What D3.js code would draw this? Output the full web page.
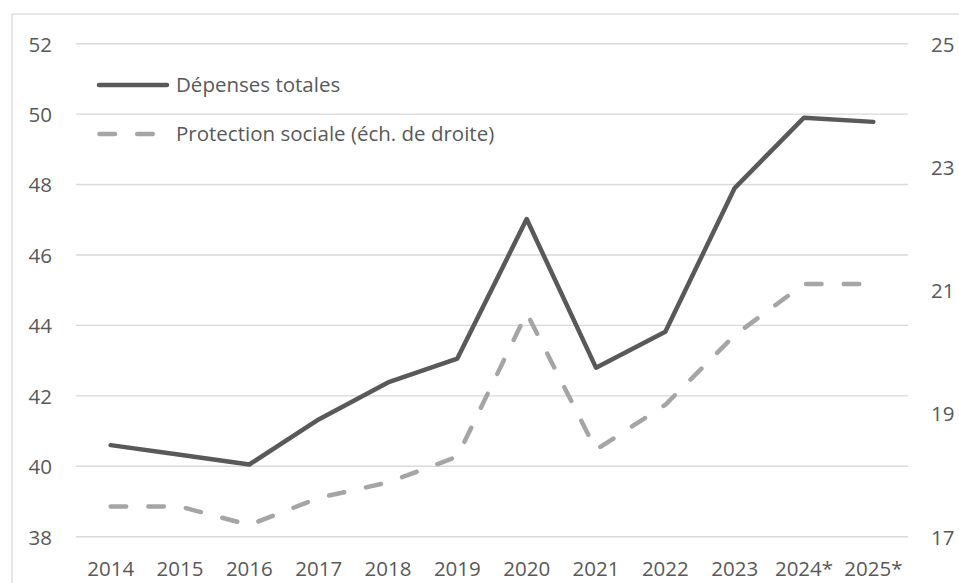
<!DOCTYPE html>
<html>
<head>
<meta charset="utf-8">
<script src="https://cdn.jsdelivr.net/npm/d3@7"></script>
<style>
  html, body { margin: 0; padding: 0; background: #fff; }
  svg { display: block; }
  text { font-family: "Open Sans", "Noto Sans", sans-serif; fill: #595959; }
</style>
</head>
<body>
<svg id="chart" width="959" height="583"></svg>
<script>
// Years on the horizontal axis (* = forecast)
const years = ["2014", "2015", "2016", "2017", "2018", "2019", "2020", "2021", "2022", "2023", "2024*", "2025*"];
// Total public spending, % of GDP (left scale)
const totalSpending = [40.60, 40.33, 40.05, 41.33, 42.38, 43.06, 47.02, 42.80, 43.82, 47.90, 49.90, 49.78];
// Social protection spending, % of GDP (right scale)
const socialProtection = [17.49, 17.49, 17.19, 17.63, 17.88, 18.30, 20.63, 18.41, 19.14, 20.27, 21.10, 21.10];
// Axis ticks
const leftTicks = [38, 40, 42, 44, 46, 48, 50, 52];
const rightTicks = [17, 19, 21, 23, 25];
// Legend entries
const seriesNames = ["Dépenses totales", "Protection sociale (éch. de droite)"];

const FONT_SIZE = 20.5;
const svg = d3.select("#chart");
const plot = { left: 76, right: 908, top: 43.7, bottom: 536.7 };

// Outer frame of the chart area
svg.append("rect")
  .attr("x", 12).attr("y", 14)
  .attr("width", 1000).attr("height", 1000)
  .attr("fill", "none").attr("stroke", "#D9D9D9").attr("stroke-width", 1.3);

const x = d3.scaleBand().domain(years).range([plot.left, plot.right]);
const yLeft = d3.scaleLinear().domain([38, 52]).range([plot.bottom, plot.top]);
const yRight = d3.scaleLinear().domain([17, 25]).range([plot.bottom, plot.top]);
const cx = d => x(d) + x.bandwidth() / 2;

// Horizontal gridlines from the left scale
svg.append("g").selectAll("line").data(leftTicks).join("line")
  .attr("x1", plot.left).attr("x2", plot.right)
  .attr("y1", d => yLeft(d)).attr("y2", d => yLeft(d))
  .attr("stroke", "#D9D9D9").attr("stroke-width", 1.4);

function styleAxis(g, dy) {
  g.attr("font-family", null).attr("font-size", null);
  g.select(".domain").remove();
  g.selectAll("text").attr("font-size", FONT_SIZE).attr("dy", dy).attr("fill", "#595959");
}

// Left axis labels
const gL = svg.append("g").attr("transform", "translate(52,0)")
  .call(d3.axisLeft(yLeft).tickValues(leftTicks).tickSize(0).tickPadding(0));
styleAxis(gL, "0.36em");

// Right axis labels
const gR = svg.append("g").attr("transform", "translate(931,0)")
  .call(d3.axisRight(yRight).tickValues(rightTicks).tickSize(0).tickPadding(0));
styleAxis(gR, "0.36em");

// Bottom axis labels
const gB = svg.append("g").attr("transform", "translate(0,576)")
  .call(d3.axisBottom(x).tickSize(0).tickPadding(0));
styleAxis(gB, 0);

// Social protection (dashed, right scale)
const lineRight = d3.line().x((d, i) => cx(years[i])).y(d => yRight(d));
svg.append("path").datum(socialProtection)
  .attr("d", lineRight)
  .attr("fill", "none").attr("stroke", "#A5A5A5").attr("stroke-width", 4.5)
  .attr("stroke-dasharray", "15.5 22.2").attr("stroke-linecap", "round")
  .attr("stroke-linejoin", "round");

// Total spending (solid, left scale)
const lineLeft = d3.line().x((d, i) => cx(years[i])).y(d => yLeft(d));
svg.append("path").datum(totalSpending)
  .attr("d", lineLeft)
  .attr("fill", "none").attr("stroke", "#595959").attr("stroke-width", 4.5)
  .attr("stroke-linecap", "round").attr("stroke-linejoin", "round");

// Legend
const legend = svg.append("g");
legend.append("line").attr("x1", 99).attr("x2", 167).attr("y1", 85).attr("y2", 85)
  .attr("stroke", "#595959").attr("stroke-width", 4.5).attr("stroke-linecap", "round");
legend.append("line").attr("x1", 99.5).attr("x2", 167).attr("y1", 134).attr("y2", 134)
  .attr("stroke", "#A5A5A5").attr("stroke-width", 4.5).attr("stroke-linecap", "round")
  .attr("stroke-dasharray", "15.5 22.2");
legend.selectAll("text").data(seriesNames).join("text")
  .attr("x", 176).attr("y", (d, i) => 85 + i * 49).attr("dy", "0.36em")
  .attr("font-size", FONT_SIZE).text(d => d);
</script>
</body>
</html>
